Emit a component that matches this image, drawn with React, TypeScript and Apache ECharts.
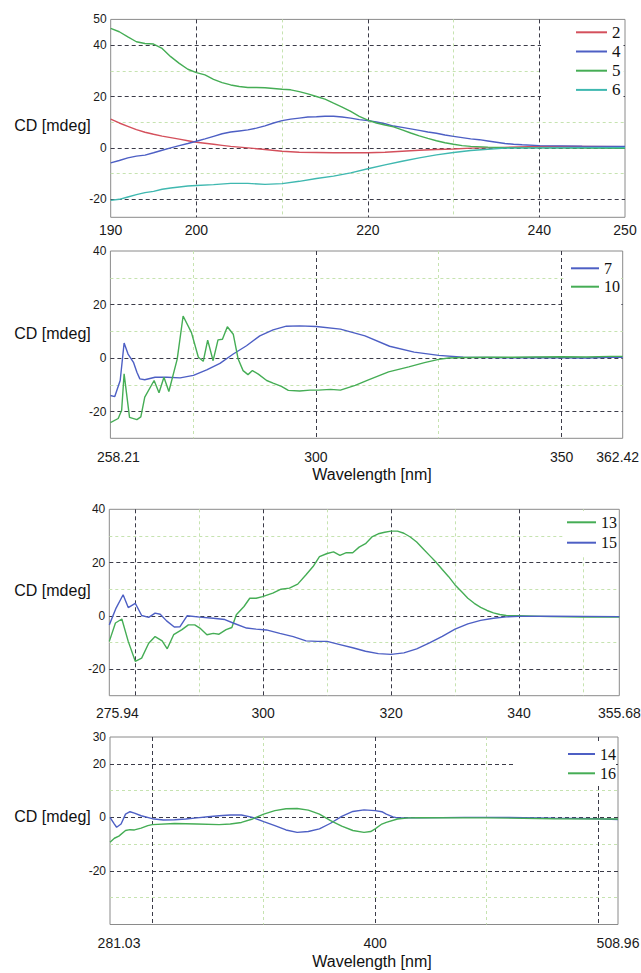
import React, { useEffect, useRef } from "react";
import * as echarts from "echarts";

// ---------- Panel 1 (190–250 nm) ----------
const p1Wave2 = [190,191,192,193,194,195,196,197,198,199,200,201,202,203,204,205,206,208,210,212,214,216,218,220,222,224,226,228,230,232,235,240,245,250];
const p1Cd2 = [11.2,9.7,8.4,7.1,6.1,5.3,4.6,4.0,3.4,2.8,2.2,1.8,1.4,1.0,0.6,0.3,0.0,-0.6,-1.3,-1.7,-1.8,-1.9,-1.9,-1.9,-1.7,-1.3,-0.9,-0.6,-0.4,-0.1,0.1,0.6,0.6,0.5];
const p1Wave4 = [190,191,192,193,194,195,196,197,198,199,200,201,202,203,204,205,206,207,208,209,210,211,212,213,214,215,216,217,218,219,220,221,222,223,224,225,226,227,228,229,230,231,232,233,234,235,236,237,238,240,245,250];
const p1Cd4 = [-5.8,-4.9,-3.9,-3.2,-2.8,-1.9,-0.9,0,0.9,1.7,2.6,3.5,4.5,5.5,6.2,6.6,7.0,7.7,8.6,9.7,10.6,11.2,11.6,12.0,12.1,12.3,12.3,12.0,11.6,11.0,10.6,10.1,9.4,8.5,8.0,7.4,6.8,6.2,5.7,5.0,4.5,4.0,3.5,3.2,2.7,2.2,1.7,1.4,1.2,0.9,0.7,0.6];
const p1Wave5 = [190,191,192,193,194,195,196,197,198,199,200,201,202,203,204,205,206,207,208,209,210,211,212,213,214,215,216,217,218,219,220,221,222,223,224,225,226,227,228,229,230,231,232,234,236,240,245,250];
const p1Cd5 = [46.5,45.2,43.2,41.3,40.6,40.4,38.7,35.5,32.9,30.6,29.3,28.4,26.7,25.4,24.5,23.9,23.5,23.5,23.4,23.1,22.8,22.6,21.9,21.0,20.0,19.0,17.4,15.9,14.2,12.3,10.8,9.7,8.9,8.2,7.0,5.8,4.7,3.7,2.8,2.0,1.4,0.9,0.6,0.3,0.1,0,-0.1,-0.2];
const p1Wave6 = [190,191,192,193,194,195,196,197,198,199,200,202,204,206,208,210,212,214,216,218,220,222,224,226,228,230,232,234,236,240,245,250];
const p1Cd6 = [-20.4,-20.0,-19.1,-18.2,-17.4,-16.9,-16.1,-15.6,-15.2,-14.8,-14.6,-14.3,-13.8,-13.8,-14.2,-13.9,-13.0,-11.9,-11.0,-9.7,-8.1,-6.6,-5.2,-3.9,-2.7,-1.8,-1.0,-0.5,-0.1,0,0.1,0.1];

// ---------- Panel 2 (258.21–362.42 nm) ----------
const p2Wave7 = [258.21,259.1,260.2,261.0,261.8,262.9,263.6,264.2,265.2,267.3,269.7,272.4,275.1,277.8,280.5,283.2,285.9,288.6,291.3,294.0,296.7,300.1,305,310,315,320,325,330,335,340,345,350,355,360,362.42];
const p2Cd7 = [-14,-14.4,-8.4,5.6,1.5,-1.6,-5.3,-7.8,-8.1,-7.2,-7.2,-7.4,-6.5,-4.4,-2,1.5,4.6,8.3,10.5,11.9,12,11.8,10.8,8.3,4.4,2.2,1,0.3,0.2,0.1,0.2,0.1,0,0.3,0.3];
const p2Wave10 = [258.21,259.8,260.5,261.0,262.1,263.6,264.4,265.2,267.1,268.1,269.1,270.1,271.8,273.0,274.7,276.1,277.1,278.0,279.1,280.1,281.0,282.0,283.2,284.2,285.2,286.2,287.1,288.3,290.0,291.3,293.0,294.4,296.7,298.8,300.5,303,305,308,310.7,314.8,318.9,322.1,325,327,330,335,340,345,350,355,360,362.42];
const p2Cd10 = [-24.1,-22.6,-19.5,-5.9,-22.2,-23,-22,-14.6,-8.4,-13,-7.2,-12.5,-0.4,15.7,9.5,0.3,-1.2,6.7,-1,6.8,7,11.7,8.9,-0.4,-4.7,-6.2,-4.7,-6,-8.4,-9.4,-10.6,-12.1,-12.3,-12,-12,-11.7,-12,-10.2,-8.2,-5.2,-3.3,-1.7,-0.5,0,0.2,0.3,0.3,0.4,0.5,0.4,0.6,0.6];

// ---------- Panel 3 (275.94–355.68 nm) ----------
const p3Wave13 = [275.94,276.9,277.9,278.9,280,281.0,282.1,283.1,284.2,285.0,286.0,287.3,288.3,289.3,290.1,291.2,292.2,293.1,294.2,295.1,295.8,297.0,297.9,298.9,299.9,301.5,302.8,304.1,305.4,306.7,307.8,308.8,310,311,312,313,314,315,316,317,318,319,320,321,322,323,324,325,326,327,328,329,330,331,332,333,334,335,336,337,338,340,345,350,355.68];
const p3Cd13 = [-9.6,-2.7,-1.2,-9.6,-17.1,-15.9,-10.3,-7.8,-9.4,-12.4,-7.1,-5.2,-3.4,-3.4,-4.6,-7.1,-6.6,-6.9,-5.2,-4.4,0.4,3.5,6.6,6.6,7.2,8.5,10,10.4,11.9,15.4,18.5,22.2,23.4,24,22.7,23.7,23.7,25.8,27.1,29.6,30.8,31.4,31.8,31.8,31,29.6,27.7,25.2,22.7,20.2,17.4,14.7,11.6,9.1,6.6,4.7,3.2,2,1.1,0.5,0.1,0,-0.3,-0.5,-0.5];
const p3Wave15 = [275.94,277.0,278.1,278.9,280,281.0,282.1,283.1,283.9,284.9,286.1,287.0,288.1,290.1,292.2,294.0,295.3,297.4,298.9,300.5,302.6,304.7,306.7,308.5,310,312,314,316,318,320,322,324,326,328,330,332,334,336,338,340,345,350,355.68];
const p3Cd15 = [-3.4,2.9,7.9,3.1,4.7,0.1,-0.6,1.0,0.6,-1.9,-4.2,-4.1,0,-0.5,-0.9,-1.4,-2.7,-4.6,-5,-5.3,-6.6,-7.8,-9.4,-9.6,-9.6,-10.8,-12,-13.3,-14.2,-14.5,-13.9,-12.4,-10.2,-7.7,-5,-3,-1.7,-0.9,-0.4,-0.2,-0.1,-0.2,-0.3];

// ---------- Panel 4 (281.03–508.96 nm) ----------
const p4Wave14 = [281.03,283,284,286,288,290,292,295,300,305,310,315,320,325,330,335,340,345,350,355,360,365,370,375,380,385,390,395,400,403,405,408,410,420,440,460,480,500,508.96];
const p4Cd14 = [0,-2.5,-3.7,-2.5,1.2,2.1,1.6,0.6,-0.5,-1,-0.9,-0.6,-0.2,0.2,0.6,0.9,0.9,0,-1.6,-3.1,-4.7,-5.6,-5.3,-4.3,-2.2,0.4,2.2,2.8,2.5,2.1,1.2,0.2,-0.2,-0.2,0,0,-0.3,-0.5,-0.8];
const p4Wave16 = [281.03,283,285,288,290,292,295,298,300,310,320,330,335,340,345,350,355,360,365,370,375,380,385,390,395,398,400,403,405,410,415,420,450,480,508.96];
const p4Cd16 = [-9.3,-7.8,-7,-4.9,-4.6,-4.7,-4,-3.1,-2.7,-2.3,-2.5,-2.7,-2.5,-1.9,-0.6,1.2,2.5,3.2,3.3,2.7,1.2,-1.2,-3.3,-4.9,-5.6,-5.3,-4.3,-2.5,-1.9,-0.6,-0.2,-0.1,-0.2,-0.5,-0.6];

// ---------- Axis ranges and ticks ----------
const xRanges = [[190, 250], [258.21, 362.42], [275.94, 355.68], [281.03, 508.96]];
const yRanges = [[-27, 50], [-30, 40], [-30, 40], [-40, 30]];
const xMajorLines = [[200, 220, 240], [300, 350], [280, 300, 320, 340], [300, 400, 500]];
const xMinorLines = [[210, 230], [275, 325], [290, 310, 330, 350], [350, 450]];
const xTickLabels = [[190, 200, 220, 240, 250], [258.21, 300, 350, 362.42], [275.94, 300, 320, 340, 355.68], [281.03, 400, 508.96]];
const yMajorLines = [[40, 20, 0, -20], [20, 0, -20], [20, 0, -20], [20, 0, -20]];
const yMinorLines = [[30, 10, -10], [30, 10, -10], [30, 10, -10], [10, -10, -30]];
const yTickLabels = [[50, 40, 20, 0, -20], [40, 20, 0, -20], [40, 20, 0, -20], [30, 20, 0, -20]];

const yTitle = "CD [mdeg]";
const xTitle = "Wavelength [nm]";

const SANS = '"Liberation Sans", Arial, sans-serif';
const SERIF = '"Liberation Serif", "Times New Roman", serif';
const MAJOR = { color: "#3b3b48", width: 1, type: [4, 3] };
const MINOR = { color: "#c6e3b0", width: 1, type: [3, 3] };
const C_RED = "#d4505c";
const C_BLUE = "#4d5fc4";
const C_GREEN = "#45ad55";
const C_CYAN = "#3fb8b0";

// layout
const grids = [
  { left: 110.7, top: 19.4, width: 514.3, height: 197.9 },
  { left: 110.4, top: 251, width: 512.3, height: 187.3 },
  { left: 109.3, top: 509.3, width: 510, height: 186.4 },
  { left: 110, top: 737, width: 508, height: 187.5 },
];
const xLabelMargin = [6, 12, 10, 11];
const xPad = [[0, 0], [16, 10], [16, 0], [18, 0]];

const zip = (xs: number[], ys: number[]) => xs.map((x, i) => [x, ys[i]]);

export default function App() {
  const ref = useRef<HTMLDivElement>(null);
  useEffect(() => {
    if (!ref.current) return;
    const chart = echarts.init(ref.current, undefined, { renderer: "svg" });

    const xAxis: any[] = [];
    const yAxis: any[] = [];
    for (let g = 0; g < 4; g++) {
      const [xmin, xmax] = xRanges[g];
      const [ymin, ymax] = yRanges[g];
      const [padL, padR] = xPad[g];
      xAxis.push({
        type: "value", gridIndex: g, min: xmin, max: xmax, position: "bottom",
        axisLine: { show: false },
        axisTick: { show: false, customValues: xMajorLines[g] },
        splitLine: { show: true, lineStyle: MAJOR },
        axisLabel: {
          customValues: xTickLabels[g], margin: xLabelMargin[g], fontSize: 14, fontFamily: SANS,
          color: "#1a1a1a", hideOverlap: false,
          formatter: (v: number) => (v === xmin && padL ? `{lo|${v}}` : v === xmax && padR ? `{hi|${v}}` : `${v}`),
          rich: {
            lo: { padding: [0, 0, 0, padL], fontSize: 14, fontFamily: SANS, color: "#1a1a1a" },
            hi: { padding: [0, padR, 0, 0], fontSize: 14, fontFamily: SANS, color: "#1a1a1a" },
          },
        },
      });
      xAxis.push({
        type: "value", gridIndex: g, min: xmin, max: xmax, position: "bottom",
        axisLine: { show: false },
        axisTick: { show: false, customValues: xMinorLines[g] },
        axisLabel: { show: false },
        splitLine: { show: true, lineStyle: MINOR },
      });
      yAxis.push({
        type: "value", gridIndex: g, min: ymin, max: ymax,
        axisLine: { show: false },
        axisTick: { show: false, customValues: yMajorLines[g] },
        splitLine: { show: true, lineStyle: MAJOR },
        axisLabel: { customValues: yTickLabels[g], margin: 4, fontSize: 12, fontFamily: SANS, color: "#1a1a1a", hideOverlap: false },
      });
      yAxis.push({
        type: "value", gridIndex: g, min: ymin, max: ymax,
        axisLine: { show: false },
        axisTick: { show: false, customValues: yMinorLines[g] },
        axisLabel: { show: false },
        splitLine: { show: true, lineStyle: MINOR },
      });
    }

    const mk = (name: string, g: number, xs: number[], ys: number[], color: string) => ({
      name, type: "line", xAxisIndex: 2 * g, yAxisIndex: 2 * g, data: zip(xs, ys),
      symbol: "none", showSymbol: false, color, itemStyle: { color },
      lineStyle: { color, width: 1.4 }, emphasis: { disabled: true }, clip: true,
    });

    const series = [
      mk("2", 0, p1Wave2, p1Cd2, C_RED),
      mk("4", 0, p1Wave4, p1Cd4, C_BLUE),
      mk("5", 0, p1Wave5, p1Cd5, C_GREEN),
      mk("6", 0, p1Wave6, p1Cd6, C_CYAN),
      mk("7", 1, p2Wave7, p2Cd7, C_BLUE),
      mk("10", 1, p2Wave10, p2Cd10, C_GREEN),
      mk("13", 2, p3Wave13, p3Cd13, C_GREEN),
      mk("15", 2, p3Wave15, p3Cd15, C_BLUE),
      mk("14", 3, p4Wave14, p4Cd14, C_BLUE),
      mk("16", 3, p4Wave16, p4Cd16, C_GREEN),
    ];

    const legendBase = {
      orient: "vertical", backgroundColor: "#ffffff", selectedMode: false, itemGap: 2.2,
      icon: "rect", itemWidth: 31, itemHeight: 2,
      textStyle: { fontFamily: SERIF, fontSize: 17, lineHeight: 17, color: "#111" },
    };
    const t16 = { ...legendBase.textStyle, fontSize: 16, lineHeight: 16 };
    const legend = [
      { ...legendBase, data: ["2", "4", "5", "6"], left: 541, top: 21, padding: [2.8, 3, 9, 35] },
      { ...legendBase, data: ["7", "10"], left: 565, top: 253, padding: [7.3, 1, 13, 6], itemWidth: 28, itemGap: 2.4, textStyle: t16 },
      { ...legendBase, data: ["13", "15"], left: 564, top: 511, padding: [3.3, 0, 4, 3], itemWidth: 29, itemGap: 4.4, textStyle: t16 },
      { ...legendBase, data: ["14", "16"], left: 515, top: 742, padding: [4, 0, 4, 53], itemWidth: 27, itemGap: 3.3, textStyle: t16 },
    ];

    const yTitleY = [125, 333.3, 590, 816.7];
    const xTitleY = [474, 961];
    const textEl = (text: string, x: number, y: number) => ({
      type: "text", x, y, z: 10,
      style: { text, fill: "#111", fontFamily: SANS, fontSize: 16, align: "center", verticalAlign: "middle" },
    });
    const graphic = [
      ...yTitleY.map((y) => textEl(yTitle, 52.5, y)),
      ...xTitleY.map((y) => textEl(xTitle, 372, y)),
    ];

    chart.setOption({
      animation: false,
      backgroundColor: "#ffffff",
      grid: grids.map((g) => ({ ...g, show: true, borderColor: "#8a8a8a", borderWidth: 1, backgroundColor: "transparent", containLabel: false, outerBoundsMode: "none" })),
      xAxis, yAxis, series, legend, graphic,
      tooltip: { show: false },
    });
    return () => chart.dispose();
  }, []);
  return <div ref={ref} style={{ position: "absolute", left: 0, top: 0, width: 641, height: 973 }} />;
}
